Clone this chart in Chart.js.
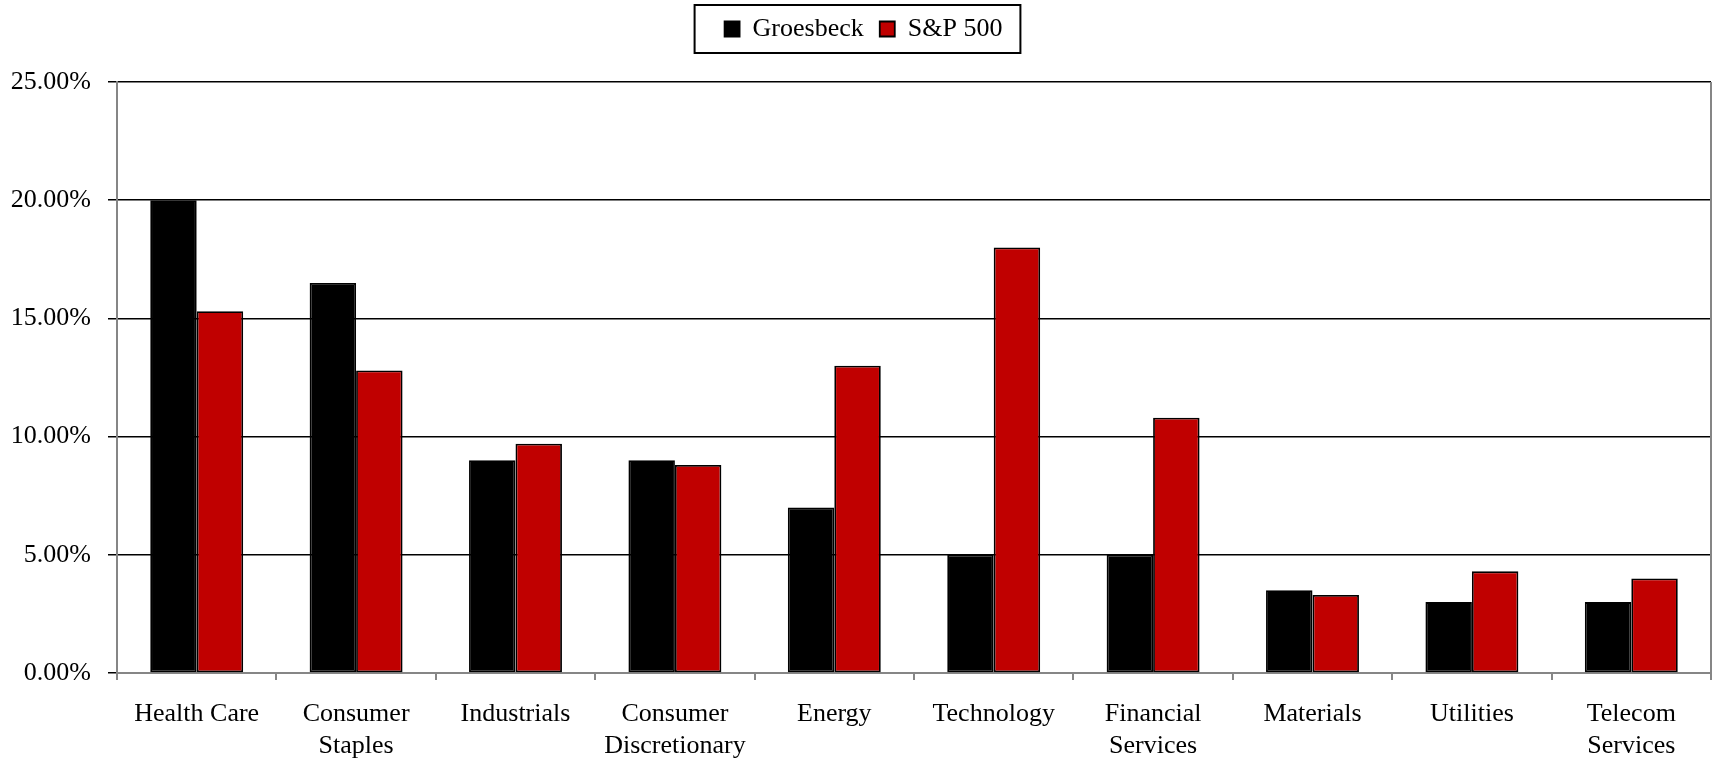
<!DOCTYPE html>
<html>
<head>
<meta charset="utf-8">
<script src="https://cdn.jsdelivr.net/npm/chart.js@4/dist/chart.umd.min.js"></script>
<style>
  html, body { margin: 0; padding: 0; background: #fff; }
  #wrap { width: 1713px; height: 759px; position: relative; }
</style>
</head>
<body>
<div id="wrap"><canvas id="c"></canvas></div>
<script>
// Sector weights (%)
const categories = [
  'Health Care', ['Consumer', 'Staples'], 'Industrials', ['Consumer', 'Discretionary'],
  'Energy', 'Technology', ['Financial', 'Services'], 'Materials', 'Utilities', ['Telecom', 'Services']
];
const groesbeck = [20.0, 16.5, 9.0, 9.0, 7.0, 5.0, 5.0, 3.5, 3.0, 3.0];
const sp500     = [15.3, 12.8, 9.7, 8.8, 13.0, 18.0, 10.8, 3.3, 4.3, 4.0];
const yTicks = [0, 5, 10, 15, 20, 25];

const FONT = { family: '"Liberation Serif", "Times New Roman", serif', size: 26, lineHeight: 1.2 };
const AXIS_GREY = '#868686';

// Legend band height, legend offset, and frames (legend box, right edge of plot)
const framePlugin = {
  id: 'frame',
  beforeLayout(chart) {
    const lg = chart.legend;
    if (lg && !lg._bandFixed) {
      const fit = lg.fit.bind(lg);
      lg.fit = function () { fit(); this.height = 82; };
      lg._bandFixed = true;
    }
  },
  afterLayout(chart) {
    const lg = chart.legend;
    if (lg) { lg.left += 8; lg.right += 8; }
  },
  afterDraw(chart) {
    const ctx = chart.ctx;
    const area = chart.chartArea;
    ctx.save();
    ctx.strokeStyle = AXIS_GREY;
    ctx.lineWidth = 2;
    ctx.beginPath();
    ctx.moveTo(area.right, area.top);
    ctx.lineTo(area.right, area.bottom);
    ctx.stroke();

    const boxes = chart.legend && chart.legend.legendHitBoxes;
    if (boxes && boxes.length) {
      const left = Math.min(...boxes.map(b => b.left));
      const right = Math.max(...boxes.map(b => b.left + b.width));
      const cy = boxes[0].top + boxes[0].height / 2;
      ctx.strokeStyle = '#000';
      ctx.lineWidth = 2;
      ctx.strokeRect(left - 30, cy - 24, right - left + 48, 48);
    }
    ctx.restore();
  }
};

new Chart(document.getElementById('c'), {
  type: 'bar',
  data: {
    labels: categories,
    datasets: [
      { label: 'Groesbeck', data: groesbeck, backgroundColor: '#000000', borderColor: '#000000' },
      { label: 'S&P 500', data: sp500, backgroundColor: '#C00000', borderColor: '#000000' }
    ]
  },
  options: {
    responsive: true,
    maintainAspectRatio: false,
    animation: false,
    devicePixelRatio: 1,
    layout: { padding: { top: 0, right: 2, left: 0, bottom: 0 } },
    datasets: {
      bar: {
        barPercentage: 1,
        categoryPercentage: 0.583,
        borderWidth: 1.8,
        borderSkipped: false
      }
    },
    plugins: {
      legend: {
        position: 'top',
        labels: {
          font: FONT,
          color: '#000',
          boxWidth: 15,
          boxHeight: 15,
          padding: 16
        }
      },
      tooltip: { enabled: false }
    },
    scales: {
      x: {
        offset: true,
        afterFit(scale) { scale.height = 86; },
        grid: {
          offset: true,
          drawOnChartArea: false,
          color: AXIS_GREY,
          lineWidth: 2,
          tickLength: 7
        },
        border: { color: AXIS_GREY, width: 2 },
        ticks: {
          font: FONT,
          color: '#000',
          maxRotation: 0,
          autoSkip: false,
          padding: 19
        }
      },
      y: {
        min: 0,
        max: 25,
        afterBuildTicks(scale) {
          scale.ticks = yTicks.map(v => ({ value: v }));
        },
        afterFit(scale) { scale.width = 117; },
        grid: {
          color: '#000',
          lineWidth: 1.5,
          tickLength: 9,
          tickColor: '#000'
        },
        border: { color: AXIS_GREY, width: 2 },
        ticks: {
          font: FONT,
          color: '#000',
          padding: 17,
          callback: v => v.toFixed(2) + '%'
        }
      }
    }
  },
  plugins: [framePlugin]
});
</script>
</body>
</html>
